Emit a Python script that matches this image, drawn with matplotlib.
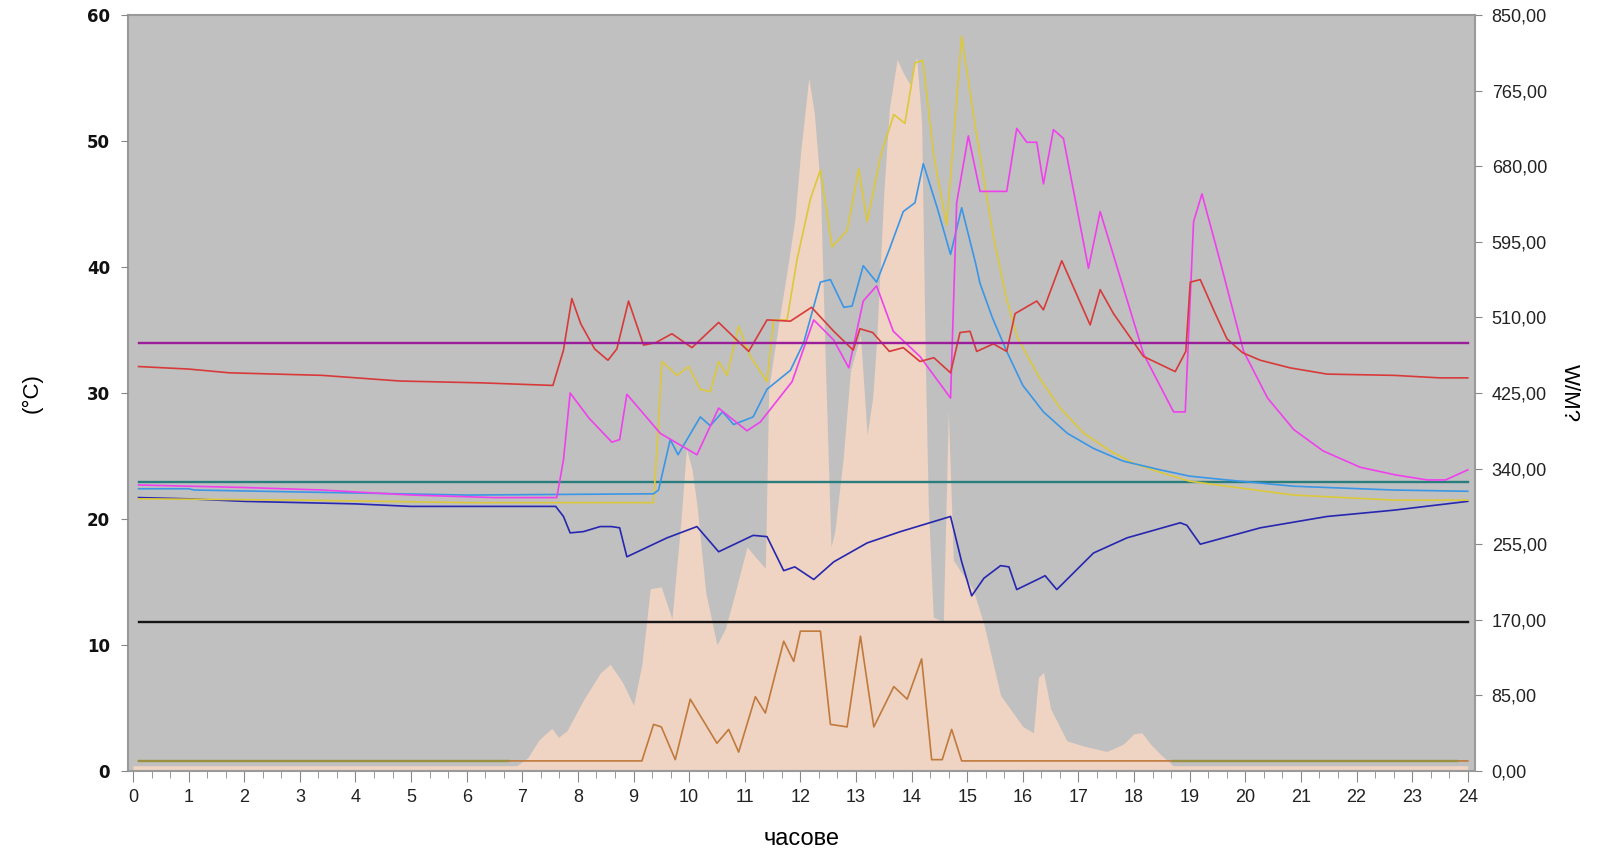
import matplotlib
matplotlib.use("Agg")
import matplotlib.pyplot as plt
import numpy as np
from matplotlib.ticker import MultipleLocator, FixedLocator

# ---------------- data ----------------
rad_t = [0.0, 6.9, 7.1, 7.3, 7.53, 7.65, 7.8, 8.1, 8.4, 8.58, 8.8, 9.0, 9.15, 9.3, 9.5, 9.69,
         9.85, 9.95, 10.05, 10.14, 10.3, 10.5, 10.65, 10.8, 11.04, 11.2, 11.37, 11.43, 11.6,
         11.76, 11.9, 12.0, 12.15, 12.25, 12.36, 12.45, 12.55, 12.62, 12.77, 12.9, 13.08, 13.2,
         13.3, 13.37, 13.5, 13.6, 13.74, 13.85, 13.97, 14.09, 14.18, 14.25, 14.3, 14.39, 14.57,
         14.66, 14.75, 14.93, 15.1, 15.3, 15.6, 16.0, 16.19, 16.28, 16.37, 16.5, 16.79, 17.1,
         17.51, 17.8, 18.0, 18.14, 18.3, 18.47, 18.7, 24.0]
rad_v = [6, 6, 15, 35, 48, 38, 45, 80, 110, 120, 100, 74, 120, 205, 207, 171,
         280, 362, 340, 299, 200, 142, 160, 194, 252, 240, 228, 430, 500,
         562, 620, 693, 779, 740, 656, 456, 252, 270, 352, 450, 490, 378,
         420, 484, 650, 745, 800, 785, 772, 803, 729, 450, 299, 173, 168,
         405, 237, 220, 205, 165, 85, 50, 43, 105, 111, 70, 34, 28,
         22, 30, 42, 43, 30, 19, 6, 6]

red_t = [0.1, 1.0, 1.74, 3.4, 4.8, 6.3, 7.55, 7.74, 7.89, 8.05, 8.3, 8.54, 8.7, 8.91, 9.18, 9.4,
         9.69, 10.05, 10.53, 11.07, 11.4, 11.82, 12.2, 12.6, 12.95, 13.07, 13.3, 13.6, 13.85,
         14.15, 14.4, 14.7, 14.87, 15.05, 15.17, 15.47, 15.71, 15.86, 16.25, 16.37, 16.7, 17.21,
         17.39, 17.63, 18.17, 18.74, 18.93, 19.01, 19.19, 19.45, 19.67, 19.95, 20.27, 20.8, 21.47,
         22.67, 23.5, 24.0]
red_v = [32.1, 31.9, 31.6, 31.4, 30.95, 30.8, 30.6, 33.4, 37.5, 35.5, 33.5, 32.6, 33.5, 37.3, 33.8, 34.0,
         34.7, 33.6, 35.6, 33.3, 35.8, 35.7, 36.8, 34.9, 33.4, 35.1, 34.8, 33.3, 33.6,
         32.5, 32.8, 31.6, 34.8, 34.9, 33.3, 33.9, 33.3, 36.3, 37.3, 36.6, 40.5, 35.4,
         38.2, 36.3, 32.9, 31.7, 33.3, 38.8, 39.0, 36.4, 34.3, 33.2, 32.6, 32.0, 31.5,
         31.4, 31.2, 31.2]

mag_t = [0.1, 2.0, 3.4, 5.0, 6.5, 7.62, 7.74, 7.86, 8.2, 8.61, 8.75, 8.88, 9.48, 10.14, 10.53,
         11.04, 11.28, 11.85, 12.24, 12.6, 12.87, 13.13, 13.37, 13.67, 14.15, 14.7, 14.81, 15.02,
         15.23, 15.71, 15.89, 16.07, 16.25, 16.37, 16.55, 16.73, 17.18, 17.39, 18.17, 18.71,
         18.92, 19.07, 19.22, 19.55, 19.97, 20.4, 20.87, 21.4, 22.07, 22.7, 23.27, 23.6, 24.0]
mag_v = [22.7, 22.5, 22.3, 21.9, 21.7, 21.7, 24.7, 30.0, 28.0, 26.1, 26.3, 29.9, 26.8, 25.1, 28.8,
         27.0, 27.7, 30.9, 35.8, 34.2, 32.0, 37.3, 38.5, 34.9, 32.9, 29.6, 45.1, 50.4,
         46.0, 46.0, 51.0, 49.9, 49.9, 46.6, 50.9, 50.2, 39.9, 44.4, 33.1, 28.5,
         28.5, 43.6, 45.8, 40.4, 33.3, 29.6, 27.1, 25.4, 24.1, 23.5, 23.1, 23.1, 23.9]

lblue_t = [0.1, 1.0, 1.1, 6.0, 9.36, 9.45, 9.66, 9.8, 10.2, 10.38, 10.6, 10.8, 11.15, 11.4, 11.82,
           12.06, 12.36, 12.54, 12.78, 12.93, 13.13, 13.37, 13.6, 13.85, 14.06, 14.21, 14.46, 14.7,
           14.9, 15.15, 15.23, 15.45, 15.71, 16.0, 16.37, 16.8, 17.27, 17.8, 18.47, 19.0, 19.67,
           20.87, 22.67, 24.0]
lblue_v = [22.4, 22.4, 22.3, 21.9, 22.0, 22.3, 26.3, 25.1, 28.1, 27.4, 28.5, 27.5, 28.1, 30.3, 31.8,
           34.0, 38.8, 39.0, 36.8, 36.9, 40.1, 38.8, 41.4, 44.4, 45.1, 48.2, 44.7, 41.0,
           44.7, 40.3, 38.7, 36.0, 33.3, 30.6, 28.5, 26.8, 25.6, 24.6, 23.9, 23.4, 23.1,
           22.6, 22.3, 22.2]

yel_t = [0.1, 3.0, 6.0, 9.36, 9.45, 9.51, 9.78, 9.99, 10.2, 10.38, 10.53, 10.68, 10.89, 11.1, 11.4,
         11.52, 11.76, 11.94, 12.18, 12.36, 12.57, 12.84, 13.05, 13.2, 13.44, 13.68, 13.88, 14.06,
         14.2, 14.4, 14.63, 14.9, 15.15, 15.47, 15.7, 15.9, 16.3, 16.67, 17.1, 17.57, 18.0, 18.47,
         19.0, 19.67, 20.87, 22.67, 24.0]
yel_v = [21.6, 21.5, 21.3, 21.3, 27.7, 32.5, 31.4, 32.1, 30.3, 30.1, 32.5, 31.4, 35.3, 32.9, 30.9,
         35.8, 35.8, 40.6, 45.4, 47.7, 41.6, 42.9, 47.8, 43.6, 48.8, 52.1, 51.4, 56.2,
         56.4, 48.8, 43.3, 58.3, 51.0, 42.4, 37.6, 34.4, 31.2, 28.8, 26.8, 25.4, 24.4, 23.7,
         23.0, 22.6, 21.9, 21.5, 21.5]

dblue_t = [0.1, 1.0, 2.0, 3.0, 4.0, 5.0, 7.6, 7.74, 7.86, 8.1, 8.4, 8.6, 8.75, 8.88, 9.6, 10.14,
           10.53, 11.15, 11.4, 11.7, 11.9, 12.24, 12.6, 13.2, 13.8, 14.4, 14.7, 14.9, 15.08, 15.3,
           15.6, 15.75, 15.89, 16.31, 16.4, 16.61, 17.27, 17.87, 18.83, 18.95, 19.19, 20.27,
           21.47, 22.67, 24.0]
dblue_v = [21.7, 21.6, 21.4, 21.3, 21.2, 21.0, 21.0, 20.2, 18.9, 19.0, 19.4, 19.4, 19.3, 17.0, 18.5, 19.4,
           17.4, 18.7, 18.6, 15.9, 16.2, 15.2, 16.6, 18.1, 19.0, 19.8, 20.2, 16.6, 13.9, 15.3,
           16.3, 16.2, 14.4, 15.3, 15.5, 14.4, 17.3, 18.5, 19.7, 19.5, 18.0, 19.3,
           20.2, 20.7, 21.4]

brown_t = [0.1, 9.15, 9.36, 9.5, 9.75, 10.02, 10.5, 10.71, 10.89, 11.19, 11.37, 11.7, 11.88, 12.0,
           12.36, 12.54, 12.84, 13.08, 13.32, 13.68, 13.92, 14.18, 14.36, 14.55, 14.72, 14.9, 24.0]
brown_v = [0.8, 0.8, 3.7, 3.5, 0.9, 5.7, 2.2, 3.3, 1.5, 5.9, 4.6, 10.3, 8.7, 11.1,
           11.1, 3.7, 3.5, 10.7, 3.5, 6.7, 5.7, 8.9, 0.9, 0.9, 3.3, 0.8, 0.8]

olive_t = [0.1, 6.75, np.nan, 18.7, 23.8]
olive_v = [0.8, 0.8, np.nan, 0.8, 0.8]

hline_x = [0.1, 24.0]
purple_level = 34.0
teal_level = 22.9
black_level = 11.85

x_ticks = list(range(0, 25))
left_ticks = [0, 10, 20, 30, 40, 50, 60]
right_ticks = [0, 85, 170, 255, 340, 425, 510, 595, 680, 765, 850]
right_labels = ["0,00", "85,00", "170,00", "255,00", "340,00", "425,00", "510,00",
                "595,00", "680,00", "765,00", "850,00"]

# ---------------- figure ----------------
W, H = 1601, 851
fig = plt.figure(figsize=(W / 100, H / 100), dpi=100)
fig.patch.set_facecolor("white")

ax = fig.add_axes([128 / W, 1 - 771 / H, (1475 - 128) / W, (771 - 15) / H])
axt = ax.twinx()
ax.set_facecolor("#c0c0c0")

# radiation (right axis) on the base axes so it is beneath the lines
ax.fill_between(rad_t, 0, rad_v, color="#efd3c3", linewidth=0, zorder=1)
ax.set_ylim(0, 850)
ax.yaxis.tick_right()
ax.yaxis.set_label_position("right")
ax.set_yticks(right_ticks)
ax.set_yticklabels(right_labels, fontsize=13, color="#222222", family="Liberation Sans")
ax.tick_params(axis="y", which="major", length=5, color="#888888", pad=7,
               left=False, right=True, labelleft=False, labelright=True)
ax.set_ylabel("W/M?", rotation=270, fontsize=16, labelpad=24, family="Liberation Sans")

ax.set_xlim(-0.09, 24.13)
ax.xaxis.set_major_locator(FixedLocator(x_ticks))
ax.xaxis.set_minor_locator(MultipleLocator(1 / 3))
ax.set_xticklabels([str(t) for t in x_ticks], fontsize=13, color="#222222", family="Liberation Sans")
ax.tick_params(axis="x", which="major", length=8, color="#888888", pad=5)
ax.tick_params(axis="x", which="minor", length=5, color="#888888")
ax.set_xlabel("часове", fontsize=17, family="Liberation Sans", labelpad=16)

for s in ax.spines.values():
    s.set_color("#9a9a9a")
    s.set_linewidth(1.5)

# temperature axes (left)
axt.set_ylim(0, 60)
axt.yaxis.tick_left()
axt.yaxis.set_label_position("left")
axt.set_yticks(left_ticks)
axt.set_yticklabels([str(v) for v in left_ticks], fontsize=12, fontweight="bold", color="#111111")
axt.tick_params(axis="y", length=5, color="#888888", pad=8,
                left=True, right=False, labelleft=True, labelright=False)
axt.set_ylabel("(°C)", fontsize=16, labelpad=32, family="Liberation Sans")
for s in axt.spines.values():
    s.set_visible(False)

lw = 1.2
axt.plot(hline_x, [black_level] * 2, color="#151515", lw=1.7, zorder=3)
axt.plot(hline_x, [teal_level] * 2, color="#2a7d7d", lw=1.7, zorder=3)
axt.plot(olive_t, olive_v, color="#9a9040", lw=1.7, zorder=4)
axt.plot(brown_t, brown_v, color="#c07a3c", lw=lw, zorder=3)
axt.plot(dblue_t, dblue_v, color="#2626b0", lw=lw, zorder=4)
axt.plot(yel_t, yel_v, color="#dcc83a", lw=lw, zorder=4)
axt.plot(lblue_t, lblue_v, color="#3a96e6", lw=lw, zorder=5)
axt.plot(mag_t, mag_v, color="#f040ee", lw=lw, zorder=6)
axt.plot(red_t, red_v, color="#d83a3a", lw=lw, zorder=7)
axt.plot(hline_x, [purple_level] * 2, color="#9a1e9a", lw=1.7, zorder=8)

fig.savefig("out.png", dpi=100, facecolor="white")
